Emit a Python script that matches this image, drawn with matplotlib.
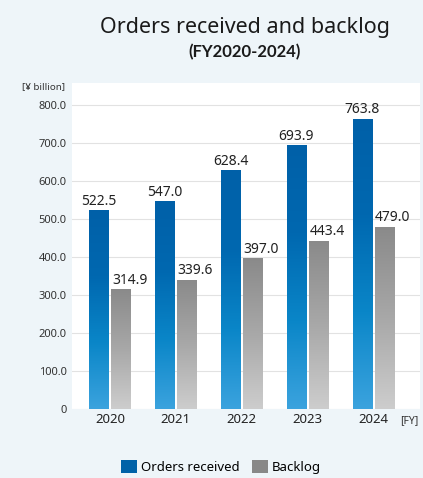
import numpy as np
import matplotlib.pyplot as plt
from matplotlib.colors import LinearSegmentedColormap
from matplotlib.patches import Patch

years = ["2020", "2021", "2022", "2023", "2024"]
orders = [522.5, 547.0, 628.4, 693.9, 763.8]
backlog = [314.9, 339.6, 397.0, 443.4, 479.0]
yticks = [0, 100, 200, 300, 400, 500, 600, 700, 800]

plt.rcParams['font.family'] = ['Noto Sans', 'DejaVu Sans']

bg = "#eef5f9"
blue_cm = LinearSegmentedColormap.from_list("b", ["#3ba3de", "#0a86c8", "#0068b0", "#0060a8"])
gray_cm = LinearSegmentedColormap.from_list("g", ["#cdcdcd", "#a8a8a8", "#8a8a8a"])

fig = plt.figure(figsize=(4.23, 4.78), dpi=100, facecolor=bg)
ax = fig.add_axes([72/423, 1-409/478, 348/423, 326/478])
ax.set_facecolor("white")

x = np.arange(len(years))
w = 0.29
off = 0.167
grad = np.linspace(0, 1, 256).reshape(-1, 1)

def gbars(xs, vals, cmap):
    bars = ax.bar(xs, vals, width=w, color="none", edgecolor="none", zorder=3)
    for b in bars:
        x0 = b.get_x()
        h = b.get_height()
        im = ax.imshow(grad, cmap=cmap, aspect="auto", origin="lower",
                       extent=(x0, x0 + b.get_width(), 0, h), zorder=3)
        im.set_clip_path(b)
    return bars

gbars(x - off, orders, blue_cm)
gbars(x + off, backlog, gray_cm)

for xi, v in zip(x - off, orders):
    ax.text(xi, v + 4, f"{v:.1f}", ha="center", va="bottom", fontsize=10, color="#222222", zorder=4)
for xi, v in zip(x + off, backlog):
    ax.text(xi - w/2 + 0.01, v + 4, f"{v:.1f}", ha="left", va="bottom", fontsize=10, color="#222222", zorder=4)

ax.set_xlim(-0.576, 4.712)
ax.set_ylim(0, 858)
ax.set_yticks(yticks)
ax.set_yticklabels(["0"] + [f"{t:.1f}" for t in yticks[1:]], fontsize=8, color="#333333")
ax.set_xticks(x)
ax.set_xticklabels(years, fontsize=9.5, color="#222222")
ax.tick_params(length=0, pad=4)
ax.tick_params(axis="x", pad=3)
ax.grid(axis="y", color="#e2e2e2", linewidth=0.8, zorder=0)
for s in ax.spines.values():
    s.set_visible(False)

fig.text(245/423, 1-28/478, "Orders received and backlog", ha="center", va="center",
         fontsize=15.5, color="#1a1a1a")
fig.text(245/423, 1-52/478, "(FY2020-2024)", ha="center", va="center",
         fontsize=12, fontweight="bold", family=["Lato", "DejaVu Sans"], color="#1a1a1a")
fig.text(65/423, 1-87/478, "[¥ billion]", ha="right", va="center", fontsize=7, color="#333333")
fig.text(400/423, 1-421/478, "[FY]", ha="left", va="center", fontsize=7.5, color="#333333")

handles = [Patch(facecolor="#0062a8", edgecolor="none", label="Orders received"),
           Patch(facecolor="#888888", edgecolor="none", label="Backlog")]
fig.legend(handles=handles, loc="center", bbox_to_anchor=(221/423, 1-467/478), ncol=2,
           frameon=False, fontsize=9.5, handlelength=1.2, handleheight=1.2,
           handletextpad=0.3, columnspacing=0.9)

fig.savefig("out.png", dpi=100, facecolor=bg)
